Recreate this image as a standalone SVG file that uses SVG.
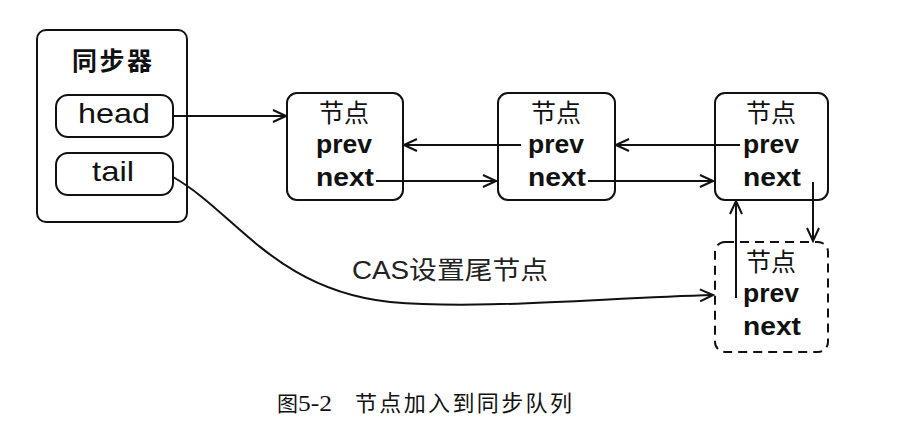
<svg xmlns="http://www.w3.org/2000/svg" width="907" height="438" viewBox="0 0 907 438">
<style>
.box{fill:#fff;stroke:#111;stroke-width:2}
.dash{fill:#fff;stroke:#111;stroke-width:2;stroke-dasharray:9 6}
.ln{fill:none;stroke:#111;stroke-width:2}
.cn{font-family:"Noto Sans CJK SC",sans-serif;font-size:25px;fill:#111;text-anchor:middle}
.en{font-family:"Liberation Sans",sans-serif;font-size:26px;font-weight:bold;fill:#111;text-anchor:middle}
.fld{font-family:"Liberation Sans",sans-serif;font-size:28px;fill:#111;text-anchor:middle}
</style>
<defs>
<marker id="ar" markerUnits="userSpaceOnUse" markerWidth="16" markerHeight="14" refX="14" refY="7" orient="auto">
<path d="M1,1 L14,7 L1,13" fill="none" stroke="#111" stroke-width="2"/>
</marker>
</defs>
<rect width="907" height="438" fill="#fff"/>
<g id="sync">
<rect class="box" x="37" y="30" width="150" height="192" rx="9"/>
<text x="112" y="70" class="cn" style="font-weight:bold;font-size:25px" textLength="80" lengthAdjust="spacing">同步器</text>
<rect class="box" x="56" y="95" width="117" height="42" rx="12"/>
<text x="114" y="123" class="fld" textLength="72" lengthAdjust="spacingAndGlyphs">head</text>
<rect class="box" x="56" y="153" width="117" height="42" rx="12"/>
<text x="113" y="181" class="fld" textLength="42" lengthAdjust="spacingAndGlyphs">tail</text>
</g>
<g id="node1">
<rect class="box" x="287" y="93" width="116" height="107" rx="10"/>
<text x="344" y="122" class="cn">节点</text>
<text x="344" y="153" class="en" textLength="56" lengthAdjust="spacingAndGlyphs">prev</text>
<text x="345" y="186" class="en" textLength="58" lengthAdjust="spacingAndGlyphs">next</text>
</g>
<g id="node2">
<rect class="box" x="498" y="93" width="117" height="107" rx="10"/>
<text x="556" y="122" class="cn">节点</text>
<text x="556" y="153" class="en" textLength="56" lengthAdjust="spacingAndGlyphs">prev</text>
<text x="557" y="186" class="en" textLength="58" lengthAdjust="spacingAndGlyphs">next</text>
</g>
<g id="node3">
<rect class="box" x="715" y="93" width="113" height="107" rx="10"/>
<text x="771" y="122" class="cn">节点</text>
<text x="771" y="153" class="en" textLength="56" lengthAdjust="spacingAndGlyphs">prev</text>
<text x="772" y="186" class="en" textLength="58" lengthAdjust="spacingAndGlyphs">next</text>
</g>
<g id="node4">
<rect class="dash" x="715" y="242" width="113" height="110" rx="10"/>
<text x="771" y="271" class="cn">节点</text>
<text x="771" y="302" class="en" textLength="56" lengthAdjust="spacingAndGlyphs">prev</text>
<text x="772" y="335" class="en" textLength="58" lengthAdjust="spacingAndGlyphs">next</text>
</g>
<g id="connectors">
<path class="ln" d="M173,116 L286,116" marker-end="url(#ar)"/>
<path class="ln" d="M521,145 L404,145" marker-end="url(#ar)"/>
<path class="ln" d="M376,181 L496,181" marker-end="url(#ar)"/>
<path class="ln" d="M740,145 L616,145" marker-end="url(#ar)"/>
<path class="ln" d="M588,181 L713,181" marker-end="url(#ar)"/>
<path class="ln" d="M813,182 L813,241" marker-end="url(#ar)"/>
<path class="ln" d="M736,298 L736,201" marker-end="url(#ar)"/>
<path class="ln" d="M173,177 C235,212 275,290 390,302 C480,310 600,298 713,295" marker-end="url(#ar)"/>
<text x="352" y="279" font-family="Liberation Sans, Noto Sans CJK SC, sans-serif" font-size="25" fill="#222" textLength="196" lengthAdjust="spacingAndGlyphs">CAS设置尾节点</text>
</g>
<g id="caption">
<text x="277" y="411" font-family="Noto Sans CJK SC, sans-serif" font-size="21" fill="#111">图</text>
<text x="298" y="411" font-family="Liberation Serif, serif" font-size="24" fill="#111" textLength="34" lengthAdjust="spacingAndGlyphs">5-2</text>
<text x="355" y="411" font-family="Noto Sans CJK SC, sans-serif" font-size="22" fill="#111" textLength="217" lengthAdjust="spacing">节点加入到同步队列</text>
</g>
</svg>
